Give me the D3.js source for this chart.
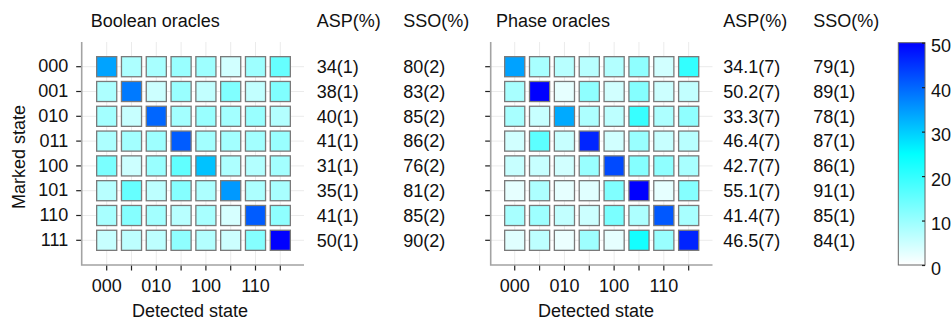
<!DOCTYPE html>
<html>
<head>
<meta charset="utf-8">
<script src="https://cdn.jsdelivr.net/npm/d3@7"></script>
<style>
  body { margin: 0; background: #fff; }
  svg { font-family: "Liberation Sans", Arial, Helvetica, sans-serif; }
  .grid line { stroke: #ebebeb; stroke-width: 1; }
  .tick line { stroke: #222; stroke-width: 1.2; }
  .tick text { fill: #111; font-size: 18px; }
  .lbl { fill: #111; font-size: 18px; }
</style>
</head>
<body>
<svg width="952" height="323"></svg>
<script>
var states = ["000", "001", "010", "011", "100", "101", "110", "111"];
var xTickShown = ["000", "010", "100", "110"];

// rows = marked state, columns = detected state, values in %
var booleanCounts = [
  [34, 8, 8.5, 10, 9.5, 4.5, 9.5, 15],
  [8, 38, 5, 10, 6, 12.5, 6, 12.5],
  [9, 5.5, 40, 9, 10, 9, 10, 7.5],
  [8, 9, 9.5, 41, 9, 9, 9, 10],
  [13, 5, 10, 15.5, 31, 8, 7.5, 9],
  [7, 15, 6.5, 12, 8, 35, 8, 8.5],
  [8.5, 12, 9, 7, 8.5, 4, 41, 11],
  [5.5, 6.5, 6.5, 11, 7.5, 5, 12, 50]
];
var phaseCounts = [
  [34.1, 8.5, 7, 7, 7.5, 11, 4.5, 20],
  [8.5, 50.2, 2.5, 11, 4.5, 12, 5, 6],
  [8.5, 5.5, 33.3, 8, 6.5, 19.5, 8, 11],
  [4.5, 16, 5.5, 46.4, 4.5, 10, 5.5, 7],
  [5.5, 5.5, 4.5, 10, 42.7, 12, 11, 8.5],
  [2.5, 8, 2.5, 3, 12.5, 55.1, 2.5, 12],
  [8.5, 9.5, 6, 5, 13, 8, 41.4, 8.5],
  [3, 6.5, 2, 9.5, 2.5, 23, 10, 46.5]
];

var boolAsp = ["34(1)", "38(1)", "40(1)", "41(1)", "31(1)", "35(1)", "41(1)", "50(1)"];
var boolSso = ["80(2)", "83(2)", "85(2)", "86(2)", "76(2)", "81(2)", "85(2)", "90(2)"];
var phaseAsp = ["34.1(7)", "50.2(7)", "33.3(7)", "46.4(7)", "42.7(7)", "55.1(7)", "41.4(7)", "46.5(7)"];
var phaseSso = ["79(1)", "89(1)", "78(1)", "87(1)", "86(1)", "91(1)", "85(1)", "84(1)"];

var colorTicks = [0, 10, 20, 30, 40, 50];

var svg = d3.select("svg");

var color = d3.scaleLinear()
    .domain([0, 25, 50])
    .range(["#ffffff", "#00ffff", "#0000ff"])
    .clamp(true);

var y = d3.scaleBand()
    .domain(states)
    .range([54.3, 252.7])
    .paddingInner(0.19)
    .paddingOuter(0.095);

function drawPanel(p) {
  var x = d3.scaleBand()
      .domain(states)
      .range([p.x0, p.x1])
      .paddingInner(0.19)
      .paddingOuter(0.095);

  var g = svg.append("g");

  // light grid through cell centres
  var grid = g.append("g").attr("class", "grid");
  grid.selectAll(".gv")
    .data(states)
    .enter().append("line")
      .attr("x1", function(d) { return x(d) + x.bandwidth() / 2; })
      .attr("x2", function(d) { return x(d) + x.bandwidth() / 2; })
      .attr("y1", 42)
      .attr("y2", 265);
  grid.selectAll(".gh")
    .data(states)
    .enter().append("line")
      .attr("x1", p.axisX)
      .attr("x2", p.axisEnd)
      .attr("y1", function(d) { return y(d) + y.bandwidth() / 2; })
      .attr("y2", function(d) { return y(d) + y.bandwidth() / 2; });

  // cells
  var cells = [];
  p.counts.forEach(function(row, i) {
    row.forEach(function(v, j) {
      cells.push({ marked: states[i], detected: states[j], value: v });
    });
  });

  g.append("g")
    .selectAll("rect")
    .data(cells)
    .enter().append("rect")
      .attr("x", function(d) { return x(d.detected); })
      .attr("y", function(d) { return y(d.marked); })
      .attr("width", x.bandwidth())
      .attr("height", y.bandwidth())
      .attr("fill", function(d) { return color(d.value); })
      .attr("stroke", "#7a7a7a")
      .attr("stroke-width", 1.3);

  // axes
  var yAxis = d3.axisLeft(y).tickSize(5.5).tickPadding(8);
  if (!p.yLabels) yAxis.tickFormat("");
  var ya = g.append("g")
      .attr("transform", "translate(" + p.axisX + ",0)")
      .call(yAxis);
  ya.select(".domain").remove();

  var xa = g.append("g")
      .attr("transform", "translate(0,265)")
      .call(d3.axisBottom(x).tickSize(5.5).tickPadding(8.5)
        .tickFormat(function(d) { return xTickShown.indexOf(d) >= 0 ? d : ""; }));
  xa.select(".domain").remove();
  xa.selectAll(".tick text").attr("dy", "0.72em");

  g.append("path")
      .attr("d", "M" + p.axisX + ",42V265H" + p.axisEnd)
      .attr("fill", "none")
      .attr("stroke", "#a3a3a3")
      .attr("stroke-width", 1.6);

  // titles and side columns
  g.append("text").attr("class", "lbl")
      .attr("x", p.titleX).attr("y", 27).text(p.title);
  g.append("text").attr("class", "lbl")
      .attr("x", p.aspX).attr("y", 27).text("ASP(%)");
  g.append("text").attr("class", "lbl")
      .attr("x", p.ssoX).attr("y", 27).text("SSO(%)");

  g.append("g").selectAll("text")
    .data(p.asp)
    .enter().append("text").attr("class", "lbl")
      .attr("x", p.aspX)
      .attr("y", function(d, i) { return y(states[i]) + y.bandwidth() / 2; })
      .attr("dy", "0.35em")
      .text(function(d) { return d; });
  g.append("g").selectAll("text")
    .data(p.sso)
    .enter().append("text").attr("class", "lbl")
      .attr("x", p.ssoX)
      .attr("y", function(d, i) { return y(states[i]) + y.bandwidth() / 2; })
      .attr("dy", "0.35em")
      .text(function(d) { return d; });

  g.append("text").attr("class", "lbl")
      .attr("x", p.xLabelX).attr("y", 317)
      .attr("text-anchor", "middle")
      .text("Detected state");
}

drawPanel({
  counts: booleanCounts, asp: boolAsp, sso: boolSso,
  title: "Boolean oracles",
  x0: 94.3, x1: 292.7, axisX: 81.7, axisEnd: 304,
  titleX: 90.7, aspX: 316.7, ssoX: 403.3, xLabelX: 190, yLabels: true
});

drawPanel({
  counts: phaseCounts, asp: phaseAsp, sso: phaseSso,
  title: "Phase oracles",
  x0: 502.3, x1: 701.1, axisX: 490.7, axisEnd: 712.5,
  titleX: 496, aspX: 723.3, ssoX: 813.3, xLabelX: 596, yLabels: false
});

svg.append("text").attr("class", "lbl")
    .attr("transform", "translate(25,157) rotate(-90)")
    .attr("text-anchor", "middle")
    .text("Marked state");

// colour bar
var cy = d3.scaleLinear().domain([0, 50]).range([265, 42.7]);

var grad = svg.append("defs").append("linearGradient")
    .attr("id", "cbar")
    .attr("x1", 0).attr("y1", 1).attr("x2", 0).attr("y2", 0);
grad.selectAll("stop")
  .data(d3.range(0, 51, 5))
  .enter().append("stop")
    .attr("offset", function(d) { return d / 50; })
    .attr("stop-color", function(d) { return color(d); });

svg.append("rect")
    .attr("x", 898.3).attr("y", cy(50))
    .attr("width", 26.7).attr("height", cy(0) - cy(50))
    .attr("fill", "url(#cbar)")
    .attr("stroke", "#666")
    .attr("stroke-width", 1);

var ca = svg.append("g")
    .attr("transform", "translate(925,0)")
    .call(d3.axisRight(cy).tickValues(colorTicks).tickSize(-3).tickPadding(6));
ca.select(".domain").remove();
ca.selectAll(".tick line").attr("stroke", "#555").attr("stroke-width", 1);
ca.selectAll(".tick text").attr("dy", "0.5em");
</script>
</body>
</html>
